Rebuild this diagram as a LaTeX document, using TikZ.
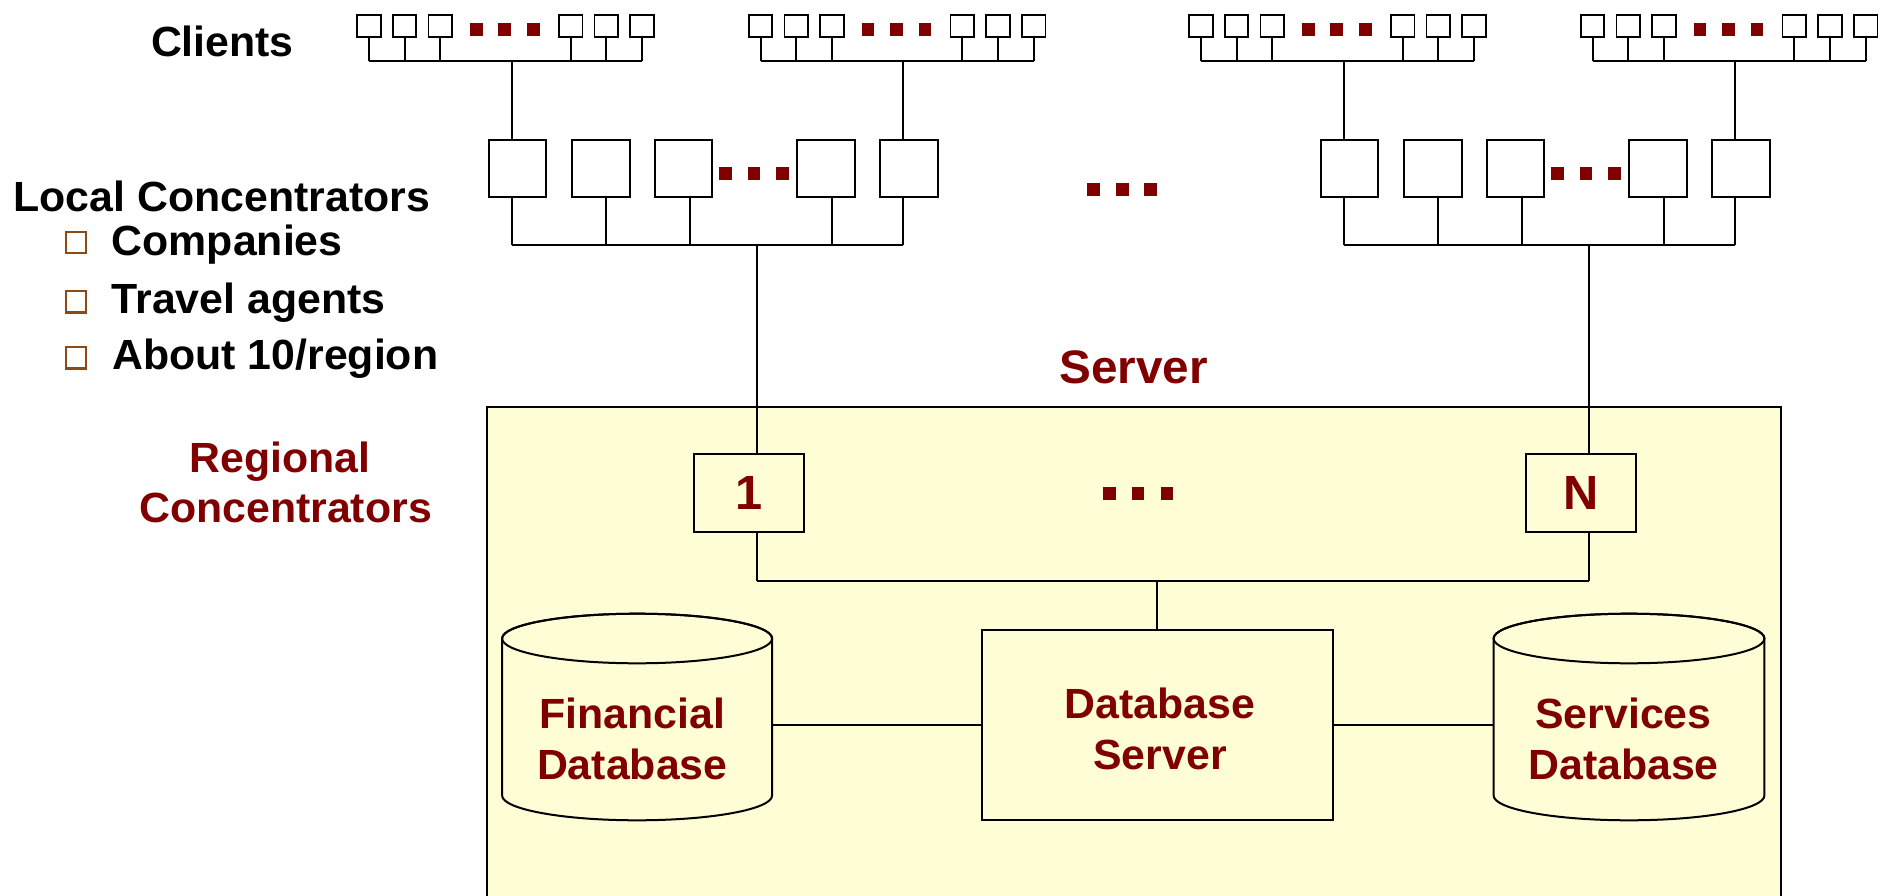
\documentclass[tikz,border=0pt]{standalone}
\usepackage{fontspec}
\setmainfont{Liberation Sans}[FakeStretch=1.015]
\definecolor{dred}{RGB}{128,0,0}
\definecolor{bul}{RGB}{140,74,20}
\definecolor{srvfill}{RGB}{255,253,214}
\begin{document}
\begin{tikzpicture}[x=1pt,y=-1pt,line width=2pt,
  lbl/.style={font=\fontsize{42.2}{50}\selectfont\bfseries, inner sep=0pt, anchor=base},
  lblw/.style={lbl, anchor=base west},
  rlbl/.style={lbl, text=dred},
  cbox/.style={draw, line width=1.8pt, minimum width=23.6pt, minimum height=22.2pt, inner sep=0pt},
  lbox/.style={draw, minimum width=57.8pt, minimum height=57.3pt, inner sep=0pt},
  rbox/.style={draw, fill=srvfill, minimum width=110.5pt, minimum height=78pt, inner sep=0pt,
               text=dred, font=\fontsize{48}{56}\selectfont\bfseries},
  dotsq/.style={fill=dred, minimum size=12.7pt, inner sep=0pt},
  bulletsq/.style={draw=bul, line width=2.2pt, minimum width=20.3pt, minimum height=21.6pt, inner sep=0pt},
  cylarea/.style={inner sep=0pt, minimum width=270pt, minimum height=208pt}
]
\useasboundingbox (0,0) rectangle (1890,896);
\clip (0,0) rectangle (1890,896);

% server area
\node[draw, fill=srvfill, anchor=north west, minimum width=1294pt, minimum height=600pt, inner sep=0pt] (server) at (486,406) {};

% two regions
\foreach \r/\dx in {1/0,2/832} {
  % local concentrators
  \foreach \i/\lx/\sx in {1/487.5/511.6, 2/571/606.3, 3/653.6/689.7, 4/795.7/831.6, 5/878.7/902.8} {
    \node[lbox] (L\r-\i) at ({\lx+\dx+29.9},168.35) {};
    \coordinate (LS\r-\i) at ({\sx+\dx},244.7);
    \draw (LS\r-\i |- L\r-\i.south) -- (LS\r-\i);
  }
  \draw (LS\r-1) -- (LS\r-5);
  \foreach \n/\ox in {1/725.7,2/754,3/782.7}
    \node[dotsq] (LD\r-\n) at ({\ox+\dx},173.8) {};
  \coordinate (LB\r) at ({757.2+\dx},244.7);
  \coordinate (RB\r) at ({757.2+\dx},580.7);
  % client groups
  \foreach \g/\gx/\sx/\t in {a/368.8/511.6/1, b/760.5/902.8/5} {
    \coordinate (CB\r\g) at ({\sx+\dx},61.3);
    \foreach \k/\ox in {1/0,2/35.7,3/71.4,4/201.8,5/237.5,6/273.2} {
      \node[cbox] (C\r\g-\k) at ({\gx+\dx+\ox},26) {};
      \draw (C\r\g-\k.south) -- (C\r\g-\k.south |- CB\r\g);
    }
    \foreach \n/\ox in {1/107.4,2/136,3/164.4}
      \node[dotsq] (CD\r\g-\n) at ({\gx+\dx+\ox},29.8) {};
    \draw (C\r\g-1.south |- CB\r\g) -- (C\r\g-6.south |- CB\r\g);
    \draw (CB\r\g) -- (CB\r\g |- L\r-\t.north);
  }
}

% middle dots between regions
\foreach \n/\ox in {1/1093.8,2/1122.5,3/1150.8}
  \node[dotsq] (MD\n) at (\ox,189.7) {};

% regional concentrators
\node[rbox] (R1) at (749.15,492.7) {1};
\node[rbox] (R2) at (1581,492.7) {N};
\draw (LB1) -- (LB1 |- R1.north);
\draw (LB2) -- (LB2 |- R2.north);
\draw (RB1 |- R1.south) -- (RB1);
\draw (RB2 |- R2.south) -- (RB2);
\draw (RB1) -- (RB2);
\foreach \n/\ox in {1/1109.3,2/1138,3/1167}
  \node[dotsq] (ID\n) at (\ox,493.3) {};

% database server
\node[draw, fill=srvfill, minimum width=350.5pt, minimum height=189.7pt, inner sep=0pt] (dbs) at (1157.25,724.85) {};
\coordinate (DBT) at (1157,580.7);
\draw (DBT) -- (DBT |- dbs.north);

% cylinders
\draw[fill=srvfill] (502.1,638.5) -- (502.1,795.5) arc[start angle=180, end angle=360, x radius=135pt, y radius=24.8pt]
  -- (772.1,638.5) arc[start angle=0, end angle=180, x radius=135pt, y radius=24.8pt] -- cycle;
\draw (637.1,638.5) ellipse [x radius=135pt, y radius=24.8pt];
\node[cylarea] (fdb) at (637.1,716.7) {};
\draw[fill=srvfill] (1493.6,638.5) -- (1493.6,795.5) arc[start angle=180, end angle=360, x radius=135.4pt, y radius=24.8pt]
  -- (1764.4,638.5) arc[start angle=0, end angle=180, x radius=135.4pt, y radius=24.8pt] -- cycle;
\draw (1629,638.5) ellipse [x radius=135.4pt, y radius=24.8pt];
\node[cylarea, minimum width=270.8pt] (sdb) at (1629,716.7) {};

\draw (dbs.west) -- (dbs.west -| fdb.east);
\draw (dbs.east) -- (dbs.east -| sdb.west);

% texts in server
\node[rlbl] (fin1) at (632.3,728.3) {Financial};
\node[rlbl] (fin2) at (632.3,779.3) {Database};
\node[rlbl] (dbs1) at (1160,718.3) {Database};
\node[rlbl] (dbs2) at (1160,769.3) {Server};
\node[rlbl] (svc1) at (1623.5,728.3) {Services};
\node[rlbl] (svc2) at (1623.5,779.3) {Database};
\node[rlbl, font=\fontsize{47}{55}\selectfont\bfseries] (srvlbl) at (1133.5,383.3) {Server};

% left labels
\node[lblw] (clients) at (150,56.7) {Clients};
\node[lblw] (localc) at (12.6,211.7) {Local Concentrators};
\node[bulletsq] (bu1) at (76.2,242.5) {};
\node[bulletsq] (bu2) at (76.2,301.7) {};
\node[bulletsq] (bu3) at (76.2,357.7) {};
\node[lblw] (it1) at (110.7,255) {Companies};
\node[lblw] (it2) at (110.7,313.3) {Travel agents};
\node[lblw] (it3) at (111.3,369.3) {About 10/region};
\node[rlbl] (reg1) at (280,472.7) {Regional};
\node[rlbl] (reg2) at (285.5,522.7) {Concentrators};
\end{tikzpicture}
\end{document}
